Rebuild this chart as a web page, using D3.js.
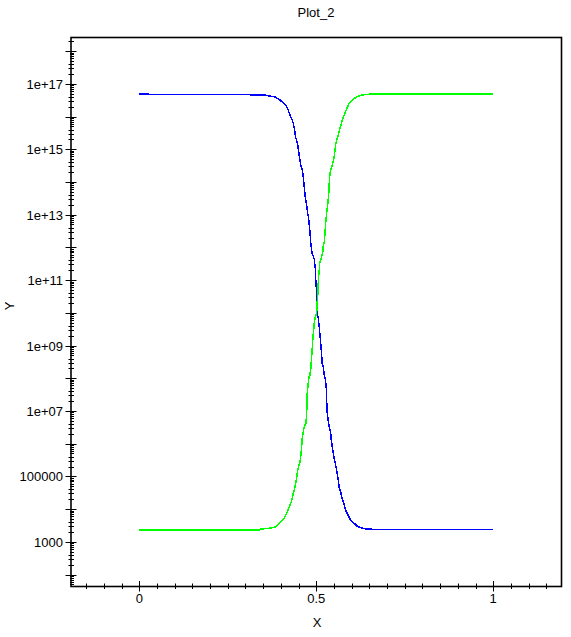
<!DOCTYPE html>
<html>
<head>
<meta charset="utf-8">
<script src="https://cdn.jsdelivr.net/npm/d3@7.9.0/dist/d3.min.js"></script>
<style>
  body { margin: 0; background: #fff; }
  text { font-family: "Liberation Sans", Arial, sans-serif; font-size: 13px; fill: #000; }
</style>
</head>
<body>
<svg id="vis"></svg>
<script>
const width = 571;
const height = 637;

// --- data ---
const title = "Plot_2";
const xTitle = "X";
const yTitle = "Y";

const xDomain = [-0.193, 1.193];
const yDomain = [4.3e1, 2.6e18];

const xMajorTicks = [0, 0.5, 1];
const xTickLabels = ["0", "0.5", "1"];
const yLabelTicks = [1e3, 1e5, 1e7, 1e9, 1e11, 1e13, 1e15, 1e17];
const yTickLabels = ["1000", "100000", "1e+07", "1e+09", "1e+11", "1e+13", "1e+15", "1e+17"];

// blue curve
const blueX = [0, 0.3503, 0.3672, 0.3814, 0.3881, 0.3955, 0.4023, 0.4088, 0.4144, 0.4181,
  0.4209, 0.4237, 0.4277, 0.4314, 0.4350, 0.4379, 0.4418, 0.4446, 0.4475, 0.4511,
  0.4540, 0.4568, 0.4605, 0.4633, 0.4661, 0.4689, 0.4729, 0.4757, 0.4785, 0.4822,
  0.4850, 0.4887, 0.4915, 0.4944, 0.4972, 0.4983, 0.4992, 0.5011, 0.5020, 0.5028,
  0.5056, 0.5085, 0.5113, 0.5141, 0.5169, 0.5198, 0.5226, 0.5254, 0.5282, 0.5294,
  0.5311, 0.5350, 0.5379, 0.5407, 0.5424, 0.5480, 0.5528, 0.5556, 0.5593, 0.5621,
  0.5650, 0.5689, 0.5718, 0.5763, 0.5791, 0.5831, 0.5876, 0.5924, 0.5972, 0.6028,
  0.6093, 0.6158, 0.6254, 0.6376, 0.6610, 1.0];
const blueY = [4.8e16, 4.6e16, 4.24e16, 4.04e16, 3.68e16, 3.36e16, 2.84e16, 2.54e16, 2.14e16, 1.86e16,
  1.58e16, 1.25e16, 9.9e15, 8.2e15, 6.2e15, 4.4e15, 2.3e15, 1.9e15, 1.35e15, 7.5e14,
  4.7e14, 3.1e14, 2.4e14, 1.45e14, 7.1e13, 3.5e13, 2.0e13, 1.1e13, 7.7e12, 3.0e12,
  1.18e12, 6.3e11, 5.4e11, 4.3e11, 2.3e11, 1.27e11, 6.6e10, 6.0e10, 1.95e10, 9.6e9,
  6.8e9, 3.7e9, 1.66e9, 7.3e8, 2.85e8, 2.2e8, 1.25e8, 9.9e7, 5.5e7, 2.15e7,
  8.5e6, 4.2e6, 2.9e6, 2.1e6, 1.29e6, 5.1e5, 2.8e5, 2.0e5, 1.24e5, 7.7e4,
  4.3e4, 3.4e4, 2.4e4, 1.67e4, 1.33e4, 9.3e3, 7.4e3, 5.8e3, 4.6e3, 4.0e3,
  3.5e3, 3.0e3, 2.7e3, 2.5e3, 2.4e3, 2.4e3];

// green curve
const greenX = [0, 0.3410, 0.3429, 0.3672, 0.3814, 0.3881, 0.3955, 0.4023, 0.4088, 0.4136,
  0.4181, 0.4220, 0.4257, 0.4294, 0.4322, 0.4350, 0.4379, 0.4418, 0.4446, 0.4475,
  0.4503, 0.4540, 0.4568, 0.4588, 0.4605, 0.4633, 0.4661, 0.4709, 0.4729, 0.4746,
  0.4774, 0.4794, 0.4822, 0.4850, 0.4870, 0.4887, 0.4907, 0.4927, 0.4944, 0.4972,
  0.5011, 0.5028, 0.5048, 0.5056, 0.5068, 0.5085, 0.5096, 0.5124, 0.5153, 0.5181,
  0.5198, 0.5226, 0.5246, 0.5266, 0.5294, 0.5322, 0.5350, 0.5367, 0.5387, 0.5435,
  0.5480, 0.5520, 0.5548, 0.5576, 0.5621, 0.5669, 0.5698, 0.5734, 0.5774, 0.5811,
  0.5847, 0.5887, 0.5932, 0.5980, 0.6045, 0.6121, 0.6198, 0.6299, 0.6565, 1.0];
const greenY = [2.3e3, 2.3e3, 2.45e3, 2.6e3, 2.75e3, 3.0e3, 3.7e3, 4.3e3, 5.2e3, 6.6e3,
  8.3e3, 1.05e4, 1.33e4, 1.67e4, 2.1e4, 3.0e4, 3.8e4, 6.1e4, 8.7e4, 1.56e5,
  2.0e5, 2.8e5, 4.5e5, 8.1e5, 1.45e6, 2.3e6, 3.3e6, 4.2e6, 8.5e6, 3.5e7,
  7.0e7, 1.11e8, 1.25e8, 2.2e8, 4.5e8, 8.2e8, 1.85e9, 3.0e9, 4.8e9, 7.6e9,
  9.6e9, 2.2e10, 3.9e10, 8.0e10, 1.27e11, 2.0e11, 3.25e11, 4.1e11, 5.2e11, 6.6e11,
  1.05e12, 1.49e12, 2.7e12, 5.4e12, 1.1e13, 2.0e13, 3.7e13, 9.1e13, 1.84e14, 2.9e14,
  4.15e14, 7.5e14, 1.35e15, 1.9e15, 2.7e15, 4.4e15, 5.5e15, 7.8e15, 9.9e15, 1.25e16,
  1.58e16, 2.0e16, 2.54e16, 2.84e16, 3.36e16, 3.86e16, 4.24e16, 4.55e16, 4.9e16, 4.9e16];

// --- layout ---
const margin = { left: 71, top: 37.5, right: 561.5, bottom: 586.5 };

const vis = d3.select("#vis")
    .attr("width", width)
    .attr("height", height);

const x = d3.scaleLinear()
    .domain(xDomain)
    .range([margin.left, margin.right]);

const y = d3.scaleLog()
    .domain(yDomain)
    .range([margin.bottom, margin.top]);

// curves
const line = d3.line()
    .x(d => x(d[0]))
    .y(d => y(d[1]));

const series = [
    { xs: blueX, ys: blueY, color: "#0000ff" },
    { xs: greenX, ys: greenY, color: "#00ff00" }
];

vis.selectAll("path.curve")
    .data(series)
    .join("path")
    .attr("class", "curve")
    .attr("d", s => line(s.xs.map((v, i) => [v, s.ys[i]])))
    .attr("fill", "none")
    .attr("stroke", s => s.color)
    .attr("stroke-width", 1.5)
    .style("shape-rendering", "crispEdges");

// frame
vis.append("rect")
    .attr("x", margin.left)
    .attr("y", margin.top)
    .attr("width", margin.right - margin.left)
    .attr("height", margin.bottom - margin.top)
    .attr("fill", "none")
    .attr("stroke", "#000")
    .attr("stroke-width", 1.6);

// y axis ticks (decades + minor)
const yTicks = [];
for (let k = 1; k <= 18; k++) {
    for (let m = 1; m <= 9; m++) {
        const v = m * Math.pow(10, k);
        if (v >= yDomain[0] && v <= yDomain[1]) yTicks.push({ v, m });
    }
}

vis.append("g")
    .selectAll("line")
    .data(yTicks)
    .join("line")
    .attr("x1", d => margin.left - (d.m === 1 ? 5.5 : (d.m <= 4 ? 2.5 : 1)))
    .attr("x2", d => margin.left + (d.m === 1 ? 5.5 : 3))
    .attr("y1", d => Math.round(y(d.v)) + 0.5)
    .attr("y2", d => Math.round(y(d.v)) + 0.5)
    .attr("stroke", "#000")
    .attr("stroke-width", 1);

vis.append("g")
    .selectAll("text")
    .data(yLabelTicks)
    .join("text")
    .attr("x", 63)
    .attr("y", d => y(d) + 5)
    .attr("text-anchor", "end")
    .text((d, i) => yTickLabels[i]);

// x axis ticks
const xMinor = d3.range(-3, 24).map(i => i * 0.05).filter(v => v >= xDomain[0] && v <= xDomain[1]);

vis.append("g")
    .selectAll("line")
    .data(xMinor)
    .join("line")
    .attr("x1", d => Math.round(x(d)) + 0.5)
    .attr("x2", d => Math.round(x(d)) + 0.5)
    .attr("y1", margin.bottom - 3)
    .attr("y2", margin.bottom + 2.5)
    .attr("stroke", "#000")
    .attr("stroke-width", 1);

vis.append("g")
    .selectAll("line")
    .data(xMajorTicks)
    .join("line")
    .attr("x1", d => Math.round(x(d)) + 0.5)
    .attr("x2", d => Math.round(x(d)) + 0.5)
    .attr("y1", margin.bottom - 5.5)
    .attr("y2", margin.bottom + 5)
    .attr("stroke", "#000")
    .attr("stroke-width", 1);

vis.append("g")
    .selectAll("text")
    .data(xMajorTicks)
    .join("text")
    .attr("x", d => x(d))
    .attr("y", 603)
    .attr("text-anchor", "middle")
    .text((d, i) => xTickLabels[i]);

// titles
vis.append("text")
    .attr("x", 316)
    .attr("y", 17)
    .attr("text-anchor", "middle")
    .text(title);

vis.append("text")
    .attr("x", 317)
    .attr("y", 627)
    .attr("text-anchor", "middle")
    .text(xTitle);

vis.append("text")
    .attr("transform", "translate(14,306) rotate(-90)")
    .attr("text-anchor", "middle")
    .text(yTitle);
</script>
</body>
</html>
